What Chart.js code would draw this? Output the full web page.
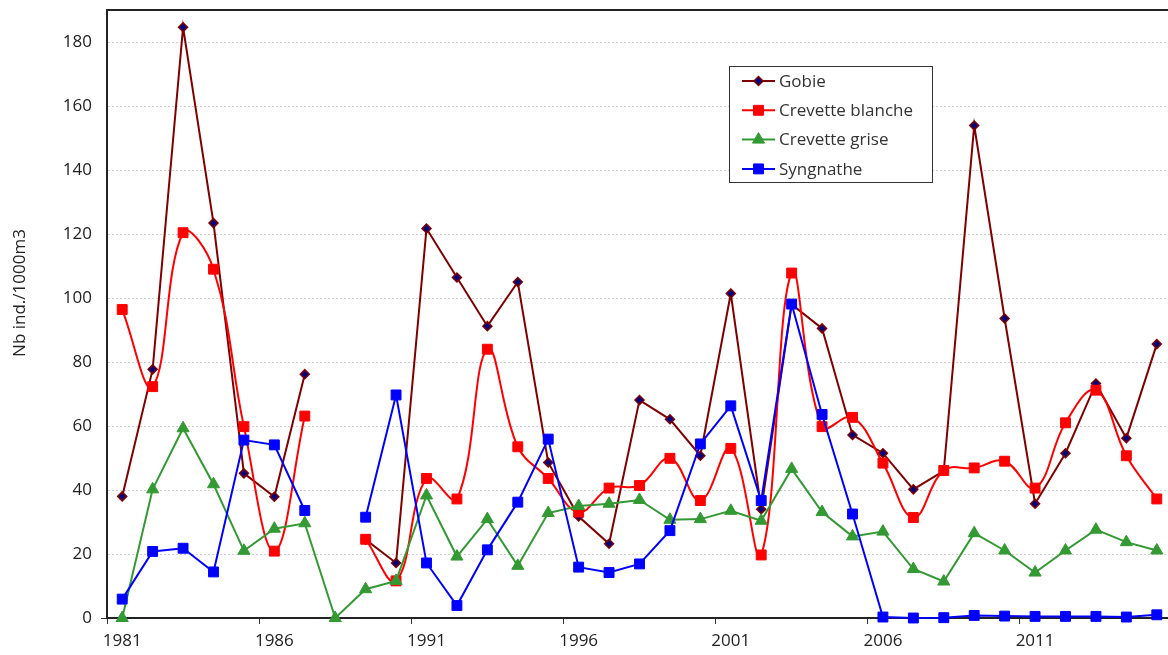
<!DOCTYPE html>
<html>
<head>
<meta charset="utf-8">
<script src="https://cdn.jsdelivr.net/npm/chart.js@4/dist/chart.umd.min.js"></script>
<style>
    html, body { margin: 0; padding: 0; background: #fff; overflow: hidden; }
    #boite { width: 1180px; height: 655px; position: relative; }
</style>
</head>
<body>
<div id="boite"><canvas id="graphe"></canvas></div>
<script>
// années (catégories)
var annees = ['1981', '1982', '1983', '1984', '1985', '1986', '1987', '1988', '1989', '1990',
    '1991', '1992', '1993', '1994', '1995', '1996', '1997', '1998', '1999', '2000',
    '2001', '2002', '2003', '2004', '2005', '2006', '2007', '2008', '2009', '2010',
    '2011', '2012', '2013', '2014', '2015'];

var gobie = [38, 77.7, 184.6, 123.4, 45.2, 37.9, 76.2, null, 24.5, 17.2,
    121.7, 106.4, 91.2, 105, 48.6, 31.7, 23.2, 68.1, 62.1, 50.7,
    101.4, 34, 98, 90.5, 57.2, 51.5, 40.2, 46, 153.9, 93.6,
    35.7, 51.5, 73.3, 56.2, 85.6];

var crevetteBlanche = [96.4, 72.3, 120.4, 109, 59.8, 20.9, 63.1, null, 24.6, 11.6,
    43.6, 37.2, 84, 53.5, 43.6, 33.1, 40.6, 41.4, 49.9, 36.7,
    53, 19.7, 107.8, 59.8, 62.7, 48.4, 31.4, 46.1, 46.9, 49,
    40.6, 61, 71.2, 50.7, 37.2];

var crevetteGrise = [0, 40.2, 59.3, 41.8, 21, 27.9, 29.6, 0, 9, 11.6,
    38.3, 19.2, 30.9, 16.3, 32.8, 35, 35.7, 36.9, 30.7, 30.9,
    33.5, 30.4, 46.6, 33.1, 25.5, 27, 15.3, 11.4, 26.5, 21.1,
    14.2, 21.1, 27.6, 23.7, 21.1];

var syngnathe = [5.9, 20.8, 21.8, 14.4, 55.6, 54.1, 33.6, null, 31.5, 69.7,
    17.2, 3.9, 21.3, 36.2, 55.9, 15.9, 14.2, 16.9, 27.3, 54.4,
    66.3, 36.7, 98.1, 63.6, 32.5, 0.3, 0, 0.1, 0.8, 0.6,
    0.5, 0.5, 0.5, 0.3, 1];

var ticksY = [0, 20, 40, 60, 80, 100, 120, 140, 160, 180];

var police = "'Open Sans', sans-serif";

function serie(nom, valeurs, ligne, fond, forme, rayon, bord, ordre, courbe) {
    return {
        label: nom,
        data: valeurs,
        borderColor: ligne,
        borderWidth: 2,
        backgroundColor: fond,
        pointBackgroundColor: fond,
        pointBorderColor: ligne,
        pointBorderWidth: bord,
        pointStyle: forme,
        pointRadius: rayon,
        tension: courbe,
        spanGaps: false,
        clip: false,
        order: ordre
    };
}

var series = [
    serie('Gobie', gobie, '#800000', '#000080', 'rectRot', 4.5, 1.5, 4, 0),
    serie('Crevette blanche', crevetteBlanche, '#ff0000', '#ff0000', 'rect', 7, 1, 3, 0.4),
    serie('Crevette grise', crevetteGrise, '#339933', '#339933', 'triangle', 7, 1, 2, 0),
    serie('Syngnathe', syngnathe, '#0000ff', '#0000ff', 'rect', 7, 1, 1, 0)
];

// cadre du haut, titre de l'axe et légende dessinés à la main
var extras = {
    id: 'extras',
    beforeDatasetsDraw: function (chart) {
        var c = chart.ctx, a = chart.chartArea;
        c.save();
        c.strokeStyle = '#222';
        c.lineWidth = 2;
        c.beginPath();
        c.moveTo(a.left, a.top);
        c.lineTo(a.right, a.top);
        c.stroke();
        c.restore();
    },
    afterDraw: function (chart) {
        var c = chart.ctx;
        c.save();
        // titre axe Y
        c.translate(20, 293);
        c.rotate(-Math.PI / 2);
        c.fillStyle = '#222';
        c.font = '17px ' + police;
        c.textAlign = 'center';
        c.textBaseline = 'middle';
        c.fillText('Nb ind./1000m3', 0, 0);
        c.restore();

        // légende
        c.save();
        c.fillStyle = '#fff';
        c.fillRect(729.5, 66.5, 203, 116);
        c.strokeStyle = '#333';
        c.lineWidth = 1;
        c.strokeRect(729.5, 66.5, 203, 116);
        series.forEach(function (s, i) {
            var y = 81 + i * 29.3;
            c.strokeStyle = s.borderColor;
            c.lineWidth = 2;
            c.beginPath();
            c.moveTo(742, y);
            c.lineTo(775, y);
            c.stroke();
            c.fillStyle = s.pointBackgroundColor;
            c.strokeStyle = s.pointBorderColor;
            c.lineWidth = s.pointBorderWidth;
            Chart.helpers.drawPoint(c, { pointStyle: s.pointStyle, radius: s.pointRadius, borderWidth: s.pointBorderWidth, rotation: 0 }, 758.5, y);
            c.fillStyle = '#333';
            c.font = '17px ' + police;
            c.textAlign = 'left';
            c.textBaseline = 'middle';
            c.fillText(s.label, 779, y + 1);
        });
        c.restore();
    }
};

new Chart(document.getElementById('graphe'), {
    type: 'line',
    data: {
        labels: annees,
        datasets: series
    },
    options: {
        responsive: true,
        maintainAspectRatio: false,
        animation: false,
        layout: { padding: { top: 10, left: 0, right: 0, bottom: 0 } },
        plugins: {
            legend: { display: false },
            tooltip: { enabled: false }
        },
        scales: {
            x: {
                type: 'category',
                offset: true,
                afterFit: function (s) { s.height = 37; s.paddingLeft = 0; s.paddingRight = 0; },
                grid: {
                    offset: true,
                    drawOnChartArea: false,
                    drawTicks: true,
                    tickLength: 6,
                    tickWidth: 1,
                    color: function (ctx) { return ctx.index % 5 === 0 ? '#333' : 'rgba(0,0,0,0)'; }
                },
                border: { color: '#222', width: 2 },
                ticks: {
                    autoSkip: false,
                    maxRotation: 0,
                    padding: 7,
                    color: '#222',
                    font: { family: police, size: 17 },
                    callback: function (v, i) { return i % 5 === 0 ? annees[i] : ''; }
                }
            },
            y: {
                min: 0,
                max: 190,
                afterFit: function (s) { s.width = 107; s.paddingTop = 0; s.paddingBottom = 0; },
                afterBuildTicks: function (s) {
                    s.ticks = ticksY.map(function (v) { return { value: v }; });
                },
                grid: {
                    color: '#cfcfcf',
                    lineWidth: 1,
                    drawTicks: true,
                    tickLength: 6,
                    tickColor: function (ctx) { return ctx.index === 0 ? '#333' : 'rgba(0,0,0,0)'; }
                },
                border: { color: '#222', width: 2, dash: [2, 2] },
                ticks: {
                    padding: 9,
                    color: '#222',
                    font: { family: police, size: 17 }
                }
            }
        }
    },
    plugins: [extras]
});
</script>
</body>
</html>
